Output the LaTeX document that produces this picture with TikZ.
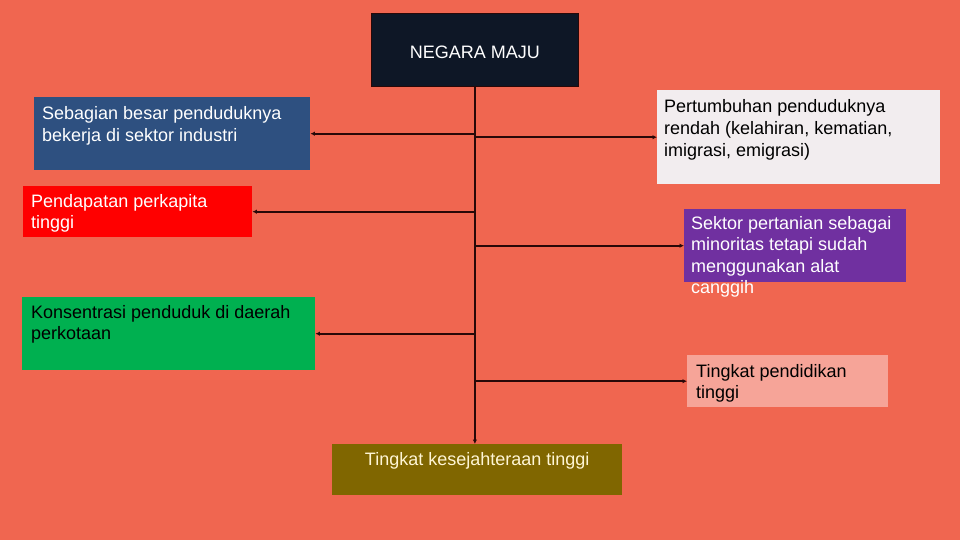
\documentclass[tikz,border=0pt]{standalone}
\usepackage{fontspec}
\setmainfont{Liberation Sans}
\usepackage{tikz}
\usetikzlibrary{arrows.meta, positioning}

\definecolor{bgcoral}{RGB}{240,102,80}
\definecolor{linedark}{RGB}{40,8,8}
\definecolor{navybox}{RGB}{14,23,38}
\definecolor{bluebox}{RGB}{46,80,128}
\definecolor{greybox}{RGB}{242,237,239}
\definecolor{redbox}{RGB}{255,0,0}
\definecolor{purplebox}{RGB}{112,48,160}
\definecolor{greenbox}{RGB}{0,176,80}
\definecolor{pinkbox}{RGB}{246,164,152}
\definecolor{olivebox}{RGB}{128,102,0}
\definecolor{creamtext}{RGB}{255,246,214}

\begin{document}
\begin{tikzpicture}[x=1pt, y=-1pt,
    box/.style={rectangle, anchor=north west, inner sep=0pt, draw=none},
    txt/.style={anchor=base west, align=left, inner sep=0pt,
                font=\fontsize{18}{21.6}\selectfont},
    conn/.style={draw=linedark, line width=1.8pt, -{Latex[length=4.5pt,width=4.5pt]}}]

    % Background
    \fill[bgcoral] (0,0) rectangle (960,540);

    % Boxes
    \node[box, fill=navybox, draw=linedark, line width=0.8pt, minimum width=207pt, minimum height=73pt] (negara) at (371,13) {};
    \node[box, fill=bluebox, minimum width=276pt, minimum height=73pt] (sebagian) at (34,97) {};
    \node[box, fill=greybox, minimum width=283pt, minimum height=94pt] (pertumbuhan) at (657,90) {};
    \node[box, fill=redbox, minimum width=229pt, minimum height=51pt] (pendapatan) at (23,186) {};
    \node[box, fill=purplebox, minimum width=222pt, minimum height=73pt] (sektor) at (684,209) {};
    \node[box, fill=greenbox, minimum width=293pt, minimum height=73pt] (konsentrasi) at (22,297) {};
    \node[box, fill=pinkbox, minimum width=201pt, minimum height=52pt] (pendidikan) at (687,355) {};
    \node[box, fill=olivebox, minimum width=290pt, minimum height=51pt] (kesejahteraan) at (332,444) {};

    % Texts (base = baseline of the last line)
    \node[txt, anchor=center, text=white] (negara-t) at ([yshift=-2pt]negara.center) {NEGARA MAJU};
    \node[txt, text=white] (sebagian-t) at ([shift={(8,44.6)}]sebagian.north west) {Sebagian besar penduduknya\\bekerja di sektor industri};
    \node[txt, text=black] (pertumbuhan-t) at ([shift={(7,66.2)}]pertumbuhan.north west) {Pertumbuhan penduduknya\\rendah (kelahiran, kematian,\\imigrasi, emigrasi)};
    \node[txt, text=white] (pendapatan-t) at ([shift={(8,42.6)}]pendapatan.north west) {Pendapatan perkapita\\tinggi};
    \node[txt, text=white] (sektor-t) at ([shift={(7,84.8)}]sektor.north west) {Sektor pertanian sebagai\\minoritas tetapi sudah\\menggunakan alat\\canggih};
    \node[txt, text=black] (konsentrasi-t) at ([shift={(9,42.6)}]konsentrasi.north west) {Konsentrasi penduduk di daerah\\perkotaan};
    \node[txt, text=black] (pendidikan-t) at ([shift={(9,43.6)}]pendidikan.north west) {Tingkat pendidikan\\tinggi};
    \node[txt, anchor=base, text=creamtext] (kesejahteraan-t) at ([yshift=-21pt]kesejahteraan.north) {Tingkat kesejahteraan tinggi};

    % Arrows
    \draw[conn] (negara.south) -- (negara.south |- kesejahteraan.north);
    \draw[conn] (negara.south |- sebagian.east) -- (sebagian.east);
    \draw[conn] (negara.south |- pertumbuhan.west) -- (pertumbuhan.west);
    \draw[conn] (negara.south |- pendapatan.east) -- (pendapatan.east);
    \draw[conn] (negara.south |- sektor.west) -- (sektor.west);
    \draw[conn] (negara.south |- konsentrasi.east) -- (konsentrasi.east);
    \draw[conn] (negara.south |- pendidikan.west) -- (pendidikan.west);
\end{tikzpicture}
\end{document}
